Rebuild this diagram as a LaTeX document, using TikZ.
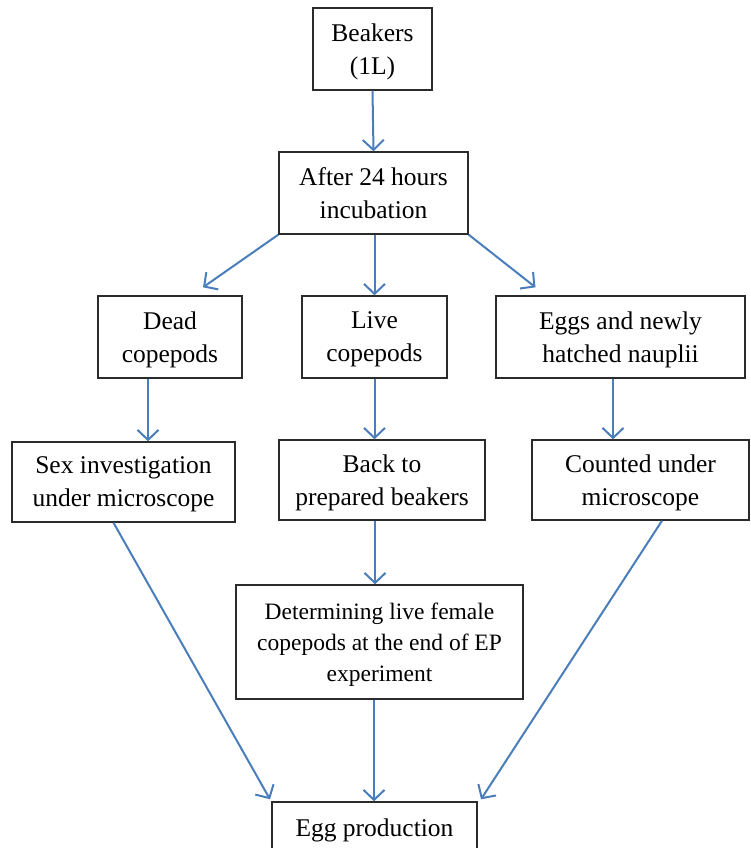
\documentclass[tikz,border=0pt]{standalone}
\usepackage{fontspec}
\setmainfont{Liberation Serif}
\usetikzlibrary{arrows.meta, positioning, calc}
\definecolor{flecha}{HTML}{4A7EBB}
\definecolor{borde}{HTML}{2B2B2B}

\begin{document}
\begin{tikzpicture}[x=1pt, y=1pt, font=\fontsize{25.5}{33}\selectfont,
        caja/.style={draw=borde, line width=1.4pt, fill=white, align=center, inner sep=2pt, text depth=0pt},
        flujo/.style={-{Straight Barb[length=10pt, width=21pt]}, flecha, line width=2pt}]
        \useasboundingbox (0,0) rectangle (750,-848);
        \node[caja, minimum width=119, minimum height=82] (beak)  at (372.5,-49)  {Beakers\\(1L)};
        \node[caja, minimum width=189, minimum height=82] (incub) at (373.5,-193) {After 24 hours\\incubation};
        \node[caja, minimum width=144, minimum height=82] (dead)  at (170,-337)   {Dead\\copepods};
        \node[caja, minimum width=145, minimum height=82] (live)  at (374.5,-337) {Live\\copepods};
        \node[caja, minimum width=249, minimum height=82] (eggs)  at (620.5,-337) {Eggs and newly\\hatched nauplii};
        \node[caja, minimum width=223, minimum height=80] (sex)   at (123.5,-482) {Sex investigation\\under microscope};
        \node[caja, minimum width=206, minimum height=80] (back)  at (382,-480)   {Back to\\prepared beakers};
        \node[caja, minimum width=217, minimum height=80] (count) at (640.5,-480) {Counted under\\microscope};
        \node[caja, minimum width=287, minimum height=114, font=\fontsize{23.5}{31}\selectfont]
            (determ) at (379.5,-642) {Determining live female\\copepods at the end of EP\\experiment};
        \node[caja, minimum width=205, minimum height=52] (eggprod) at (374.5,-828) {Egg production};
        % flechas
        \draw[flujo] (beak.south) -- (incub.north);
        \draw[flujo] (incub.south west) -- ([xshift=33pt, yshift=8pt]dead.north);
        \draw[flujo] (incub.south -| live.north) -- (live.north);
        \draw[flujo] (incub.south east) -- ([xshift=-85pt, yshift=8pt]eggs.north);
        \draw[flujo] ([xshift=-22pt]dead.south) -- ([xshift=-22pt]dead.south |- sex.north);
        \draw[flujo] (live.south) -- (live.south |- back.north);
        \draw[flujo] ([xshift=-7.5pt]eggs.south) -- ([xshift=-7.5pt]eggs.south |- count.north);
        \draw[flujo] ([xshift=-7pt]back.south) -- ([xshift=-7pt]back.south |- determ.north);
        \draw[flujo] ([xshift=-10pt]sex.south) -- ([xshift=-104.5pt, yshift=2pt]eggprod.north);
        \draw[flujo] ([xshift=-5.5pt]determ.south) -- ([xshift=-5.5pt]determ.south |- eggprod.north);
        \draw[flujo] ([xshift=21.5pt]count.south) -- ([xshift=106.5pt, yshift=2pt]eggprod.north);
    \end{tikzpicture}
\end{document}
